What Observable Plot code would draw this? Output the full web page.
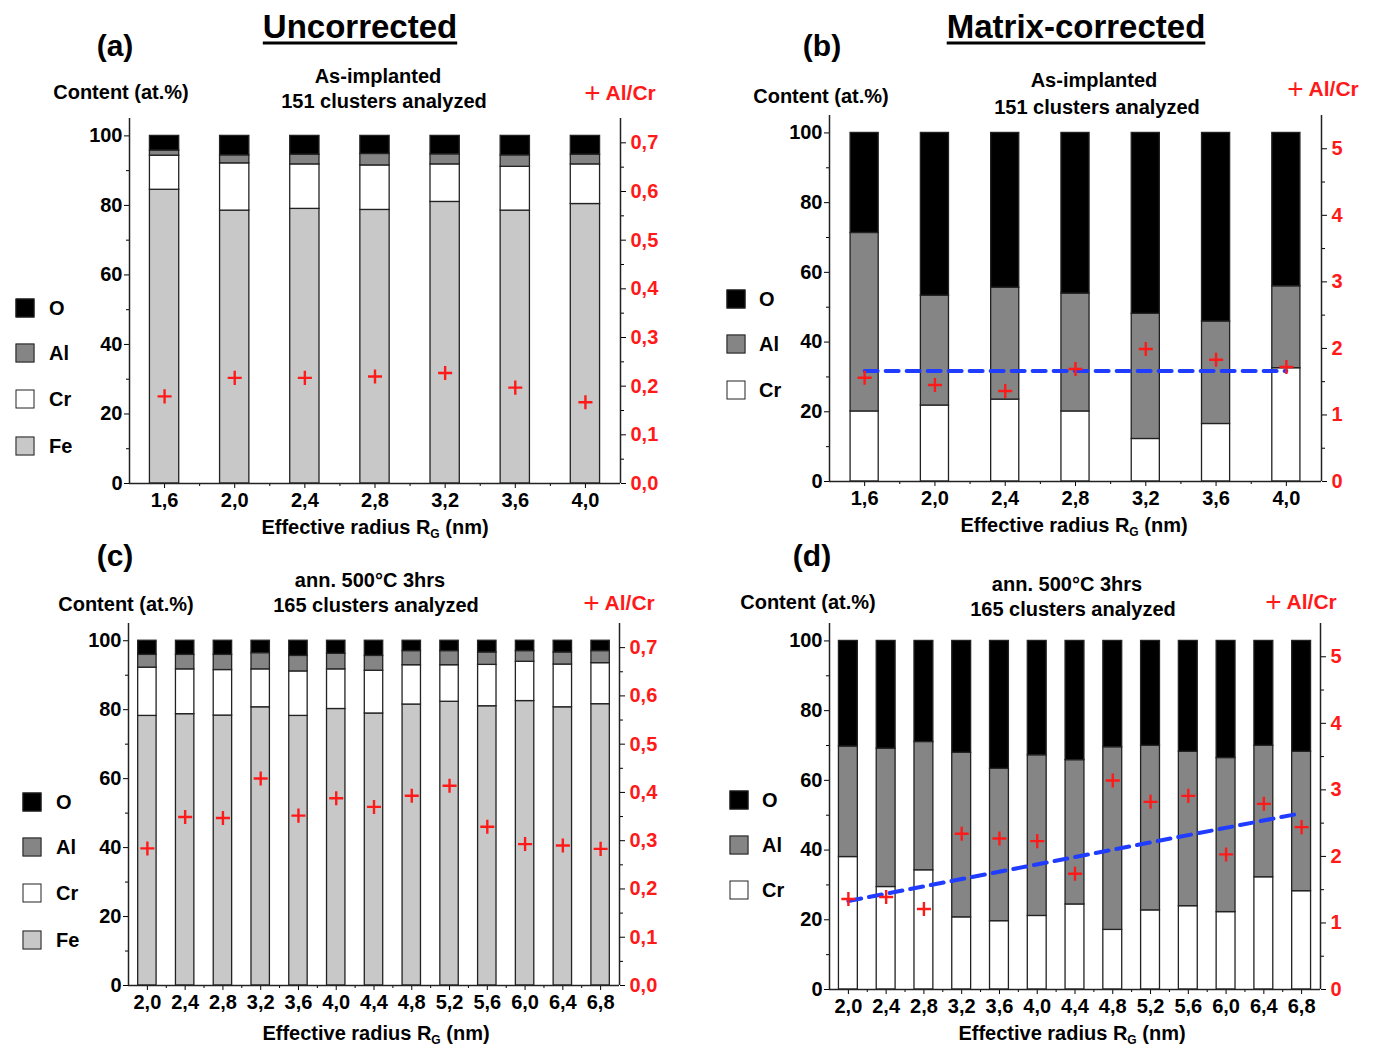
<!DOCTYPE html>
<html><head><meta charset="utf-8">
<script src="https://cdn.jsdelivr.net/npm/d3@7"></script>
<script src="https://cdn.jsdelivr.net/npm/@observablehq/plot@0.6"></script>
<style>
body{margin:0;background:#fff;}
#root{position:relative;width:1376px;height:1047px;overflow:hidden;font-family:"Liberation Sans",Arial,sans-serif;font-weight:bold;color:#000;}
.t{position:absolute;transform:translate(-50%,-50%);white-space:nowrap;line-height:1;}
.sq{position:absolute;width:19px;height:19px;border:1.5px solid #222;box-sizing:border-box;transform:translate(-50%,-50%);}
sub{font-size:60%;vertical-align:-0.35em;line-height:0;}
.plus{font-weight:normal;font-size:28px;vertical-align:-2px;}
</style></head><body><div id="root"></div><script>
// ---------------- DATA ----------------
const radiiAB = [1.6, 2.0, 2.4, 2.8, 3.2, 3.6, 4.0];
const radiiCD = [2.0, 2.4, 2.8, 3.2, 3.6, 4.0, 4.4, 4.8, 5.2, 5.6, 6.0, 6.4, 6.8];

// (a) Uncorrected, as-implanted (at.%)
const aFe = [84.5, 78.5, 79.0, 78.7, 81.0, 78.5, 80.4];
const aCr = [9.8, 13.6, 12.8, 12.8, 10.8, 12.6, 11.4];
const aAl = [1.5, 2.3, 2.8, 3.3, 2.9, 3.3, 2.8];
const aO  = [4.2, 5.6, 5.4, 5.2, 5.3, 5.6, 5.4];
const aRatio = [0.179, 0.217, 0.217, 0.220, 0.227, 0.197, 0.167];

// (b) Matrix-corrected, as-implanted
const bCr = [20.1, 21.8, 23.5, 20.1, 12.2, 16.5, 32.5];
const bAl = [51.2, 31.5, 32.1, 33.8, 35.9, 29.4, 23.5];
const bO  = [28.7, 46.7, 44.4, 46.1, 51.9, 54.1, 44.0];
const bRatio = [1.56, 1.45, 1.36, 1.69, 1.99, 1.83, 1.72];
const bTrendX = [1.6, 4.0];
const bTrendY = [1.66, 1.66];

// (c) Uncorrected, annealed 500°C 3hrs
const cFe = [78.2, 78.7, 78.3, 80.7, 78.2, 80.2, 78.9, 81.5, 82.3, 81.0, 82.5, 80.7, 81.6];
const cCr = [14.0, 13.0, 13.2, 11.0, 12.9, 11.5, 12.4, 11.4, 10.6, 12.0, 11.4, 12.4, 11.9];
const cAl = [3.7, 4.2, 4.4, 4.7, 4.5, 4.5, 4.3, 4.1, 4.1, 3.6, 3.1, 3.5, 3.5];
const cO  = [4.1, 4.1, 4.1, 3.6, 4.4, 3.8, 4.4, 3.0, 3.0, 3.4, 3.0, 3.4, 3.0];
const cRatio = [0.284, 0.349, 0.347, 0.429, 0.352, 0.388, 0.370, 0.393, 0.414, 0.329, 0.293, 0.290, 0.283];

// (d) Matrix-corrected, annealed
const dCr = [38.0, 29.4, 34.2, 20.7, 19.6, 21.1, 24.4, 17.1, 22.7, 23.9, 22.2, 32.2, 28.2];
const dAl = [31.7, 39.7, 36.8, 47.2, 43.7, 46.1, 41.4, 52.4, 47.2, 44.3, 44.2, 37.7, 40.0];
const dO  = [30.3, 30.9, 29.0, 32.1, 36.7, 32.8, 34.2, 30.5, 30.1, 31.8, 33.6, 30.1, 31.8];
const dRatio = [1.36, 1.39, 1.21, 2.34, 2.27, 2.23, 1.74, 3.14, 2.82, 2.91, 2.03, 2.79, 2.44];
const dTrendX = [2.0, 6.8];
const dTrendY = [1.33, 2.65];

const leftTicks = [0, 20, 40, 60, 80, 100];
const leftMinor = [10, 30, 50, 70, 90];

// ---------------- STYLE ----------------
const COL = {O: "#000000", Al: "#858585", Cr: "#ffffff", Fe: "#c8c8c8"};
const RED = "#ff1a1a", BLUE = "#1f3cff";
const FONT = '"Liberation Sans", Arial, sans-serif';
const root = document.getElementById("root");
const comma = f => v => d3.format(f)(v).replace(".", ",");

function txt(x, y, html, size, extra = "") {
  const d = document.createElement("div");
  d.className = "t";
  d.style.left = x + "px"; d.style.top = y + "px";
  d.style.fontSize = size + "px";
  d.style.cssText += extra;
  d.innerHTML = html;
  root.appendChild(d);
}
function legend(xSq, xLab, items) {
  items.forEach(([name, y]) => {
    const s = document.createElement("div");
    s.className = "sq";
    s.style.left = xSq + "px"; s.style.top = y + "px";
    s.style.background = COL[name];
    root.appendChild(s);
    txt(xLab, y, name, 20, "transform:translate(0,-50%);");
  });
}

function panel(o) {
  const layers = o.layers; // [name, values] bottom to top
  const hw = o.barW / 2;
  const common = {
    width: o.width, height: o.height,
    marginLeft: o.mL, marginRight: o.mR, marginTop: o.mT, marginBottom: o.mB,
    style: {fontFamily: FONT, fontSize: "20px", fontWeight: "bold", background: "transparent", overflow: "visible", color: "#000"}
  };
  const barMarks = [];
  layers.forEach(([name, vals], li) => {
    const rows = o.radii.map((r, i) => {
      let base = 0;
      for (let k = 0; k < li; k++) base += layers[k][1][i];
      return {r, y1: base, y2: base + vals[i]};
    });
    barMarks.push(Plot.rect(rows, {x1: d => d.r - hw, x2: d => d.r + hw, y1: "y1", y2: "y2",
      fill: COL[name], stroke: "#222", strokeWidth: 1.3}));
  });
  const main = Plot.plot({
    ...common,
    x: {domain: o.xDomain},
    y: {domain: [0, 105]},
    marks: [
      ...barMarks,
      Plot.axisY({ticks: leftTicks, tickSize: 5, tickPadding: 2, label: null, fontSize: 20, fontWeight: "bold"}),
      Plot.axisY({ticks: leftMinor, tickSize: 3, tickFormat: () => "", label: null}),
      Plot.axisX({ticks: o.radii, tickSize: 5, tickPadding: 4, tickFormat: comma(".1f"), label: null, fontSize: 20, fontWeight: "bold"}),
      Plot.axisX({ticks: o.xMinor, tickSize: 3, tickFormat: () => "", label: null}),
      Plot.ruleX(o.xDomain, {stroke: "#222", strokeWidth: 1.5}),
      Plot.ruleY([0], {stroke: "#222", strokeWidth: 1.5})
    ]
  });
  const ratioRows = o.radii.map((r, i) => ({r, v: o.ratio[i]}));
  const over = [
    Plot.axisY({anchor: "right", ticks: o.rTicks, tickSize: 5, tickFormat: () => "", label: null}),
    Plot.axisY({anchor: "right", ticks: o.rMinor, tickSize: 3, tickFormat: () => "", label: null}),
    Plot.axisY({anchor: "right", ticks: o.rTicks, tickSize: 0, tickPadding: 10, tickFormat: o.rFmt, color: RED, label: null, fontSize: 20, fontWeight: "bold"})
  ];
  if (o.trendX) {
    const tr = o.trendX.map((x, i) => ({x, y: o.trendY[i]}));
    over.push(Plot.line(tr, {x: "x", y: "y", stroke: BLUE, strokeWidth: 4, strokeDasharray: "13,8"}));
  }
  over.push(Plot.dot(ratioRows, {x: "r", y: "v", symbol: "plus", r: 4.6, stroke: RED, strokeWidth: 2.4}));
  const overlay = Plot.plot({
    ...common,
    x: {domain: o.xDomain, axis: null},
    y: {domain: o.rDomain},
    marks: over
  });
  [main, overlay].forEach(svg => {
    svg.style.position = "absolute";
    svg.style.left = o.left + "px";
    svg.style.top = o.top + "px";
    svg.style.maxWidth = "none";
    root.appendChild(svg);
  });
}

const minorAB = [1.8, 2.2, 2.6, 3.0, 3.4, 3.8];
const minorCD = [2.2, 2.6, 3.0, 3.4, 3.8, 4.2, 4.6, 5.0, 5.4, 5.8, 6.2, 6.6];
const rTicksUnc = [0, 0.1, 0.2, 0.3, 0.4, 0.5, 0.6, 0.7];
const rMinorUnc = [0.05, 0.15, 0.25, 0.35, 0.45, 0.55, 0.65];
const rTicksCor = [0, 1, 2, 3, 4, 5];
const rMinorCor = [0.5, 1.5, 2.5, 3.5, 4.5];

// (a)
panel({left: 0, top: 100, width: 688, height: 420, mL: 129, mR: 68, mT: 18, mB: 37,
  xDomain: [1.4, 4.2], radii: radiiAB, xMinor: minorAB, barW: 0.167,
  layers: [["Fe", aFe], ["Cr", aCr], ["Al", aAl], ["O", aO]],
  ratio: aRatio, rDomain: [0, 0.75], rTicks: rTicksUnc, rMinor: rMinorUnc, rFmt: comma(".1f")});
// (b)
panel({left: 688, top: 100, width: 688, height: 420, mL: 141, mR: 55, mT: 15, mB: 39,
  xDomain: [1.4, 4.2], radii: radiiAB, xMinor: minorAB, barW: 0.16,
  layers: [["Cr", bCr], ["Al", bAl], ["O", bO]],
  ratio: bRatio, rDomain: [0, 5.5], rTicks: rTicksCor, rMinor: rMinorCor, rFmt: d3.format("d"),
  trendX: bTrendX, trendY: bTrendY});
// (c)
panel({left: 0, top: 610, width: 688, height: 410, mL: 128, mR: 69, mT: 13, mB: 35,
  xDomain: [1.8, 7.0], radii: radiiCD, xMinor: minorCD, barW: 0.195,
  layers: [["Fe", cFe], ["Cr", cCr], ["Al", cAl], ["O", cO]],
  ratio: cRatio, rDomain: [0, 0.75], rTicks: rTicksUnc, rMinor: rMinorUnc, rFmt: comma(".1f")});
// (d)
panel({left: 688, top: 610, width: 688, height: 410, mL: 141, mR: 56, mT: 13, mB: 31,
  xDomain: [1.8, 7.0], radii: radiiCD, xMinor: minorCD, barW: 0.2,
  layers: [["Cr", dCr], ["Al", dAl], ["O", dO]],
  ratio: dRatio, rDomain: [0, 5.5], rTicks: rTicksCor, rMinor: rMinorCor, rFmt: d3.format("d"),
  trendX: dTrendX, trendY: dTrendY});

// ---------------- TEXT ----------------
txt(360, 26, "Uncorrected", 33, "text-decoration:underline;text-underline-offset:4px;");
txt(1076, 26, "Matrix-corrected", 33, "text-decoration:underline;text-underline-offset:4px;");
txt(115, 46, "(a)", 30); txt(822, 46, "(b)", 30);
txt(115, 556, "(c)", 30); txt(812, 556, "(d)", 30);

txt(121, 92, "Content (at.%)", 20); txt(821, 96, "Content (at.%)", 20);
txt(126, 604, "Content (at.%)", 20); txt(808, 602, "Content (at.%)", 20);

txt(378, 76, "As-implanted", 20); txt(384, 101, "151 clusters analyzed", 20);
txt(1094, 80, "As-implanted", 20); txt(1097, 107, "151 clusters analyzed", 20);
txt(370, 580, "ann. 500°C 3hrs", 20); txt(376, 605, "165 clusters analyzed", 20);
txt(1067, 584, "ann. 500°C 3hrs", 20); txt(1073, 609, "165 clusters analyzed", 20);

const alcr = '<span class="plus">+</span> Al/Cr';
txt(620, 93, alcr, 21, "color:" + RED + ";");
txt(1323, 89, alcr, 21, "color:" + RED + ";");
txt(619, 603, alcr, 21, "color:" + RED + ";");
txt(1301, 602, alcr, 21, "color:" + RED + ";");

const xl = "Effective radius R<sub>G</sub> (nm)";
txt(375, 527, xl, 20); txt(1074, 525, xl, 20);
txt(376, 1033, xl, 20); txt(1072, 1033, xl, 20);

legend(25, 49, [["O", 308], ["Al", 353], ["Cr", 399], ["Fe", 446]]);
legend(736, 759, [["O", 299], ["Al", 344], ["Cr", 390]]);
legend(32, 56, [["O", 802], ["Al", 847], ["Cr", 893], ["Fe", 940]]);
legend(739, 762, [["O", 800], ["Al", 845], ["Cr", 890]]);
</script></body></html>
